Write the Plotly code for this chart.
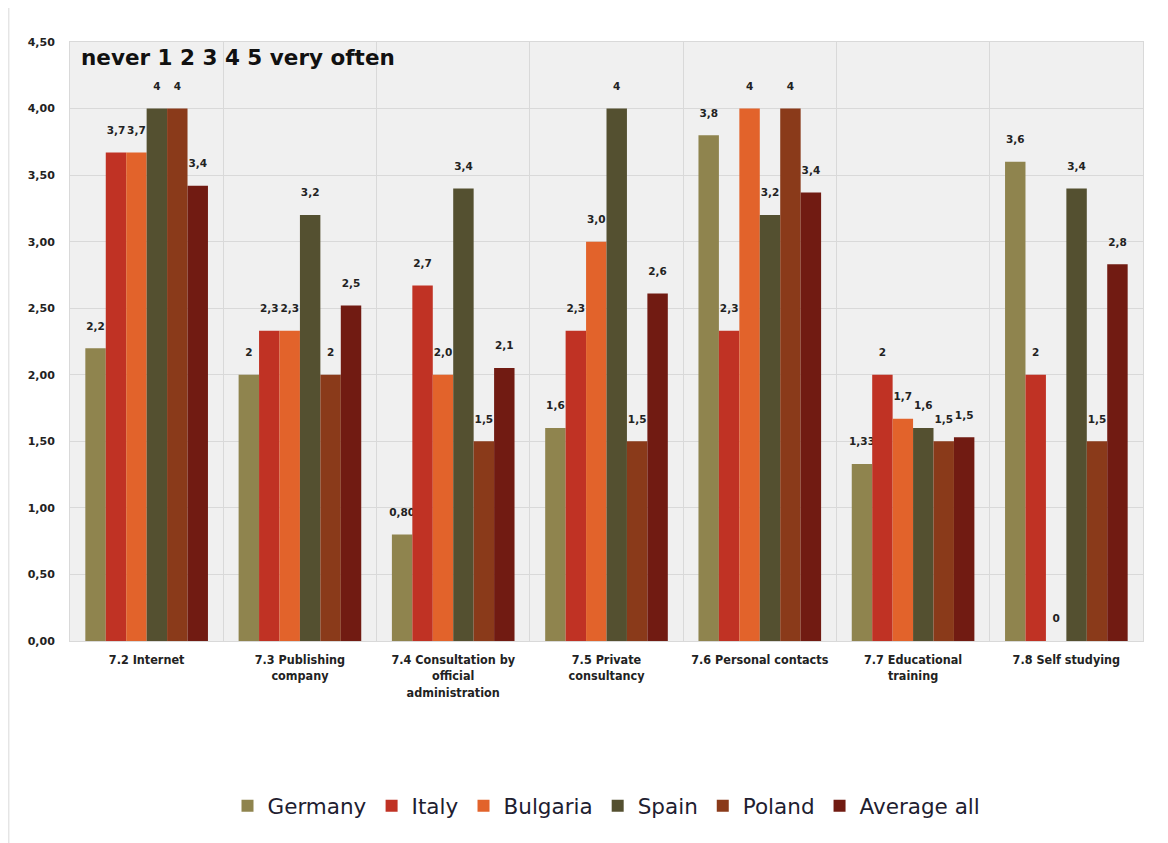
import plotly.graph_objects as go

categories = ["7.2 Internet", "7.3 Publishing<br>company", "7.4 Consultation by<br>official<br>administration",
              "7.5 Private<br>consultancy", "7.6 Personal contacts", "7.7 Educational<br>training", "7.8 Self studying"]

series_names = ["Germany", "Italy", "Bulgaria", "Spain", "Poland", "Average all"]

germany = [2.2, 2.0, 0.8, 1.6, 3.8, 1.33, 3.6]
italy = [3.67, 2.33, 2.67, 2.33, 2.33, 2.0, 2.0]
bulgaria = [3.67, 2.33, 2.0, 3.0, 4.0, 1.67, 0.0]
spain = [4.0, 3.2, 3.4, 4.0, 3.2, 1.6, 3.4]
poland = [4.0, 2.0, 1.5, 1.5, 4.0, 1.5, 1.5]
average_all = [3.42, 2.52, 2.05, 2.61, 3.37, 1.53, 2.83]

germany_labels = ["2,2", "2", "0,80", "1,6", "3,8", "1,33", "3,6"]
italy_labels = ["3,7", "2,3", "2,7", "2,3", "2,3", "2", "2"]
bulgaria_labels = ["3,7", "2,3", "2,0", "3,0", "4", "1,7", "0"]
spain_labels = ["4", "3,2", "3,4", "4", "3,2", "1,6", "3,4"]
poland_labels = ["4", "2", "1,5", "1,5", "4", "1,5", "1,5"]
average_labels = ["3,4", "2,5", "2,1", "2,6", "3,4", "1,5", "2,8"]

colors = ["#8F844E", "#C03224", "#E2632B", "#545030", "#8A3A1A", "#711B12"]

values = [germany, italy, bulgaria, spain, poland, average_all]
labels = [germany_labels, italy_labels, bulgaria_labels, spain_labels, poland_labels, average_labels]

fig = go.Figure()
for name, vals, labs, col in zip(series_names, values, labels, colors):
    fig.add_trace(go.Bar(
        name=name, x=categories, y=vals, text=labs,
        marker=dict(color=col, line=dict(width=0)),
        texttemplate="<b>%{text}</b><br> ",
        textposition="outside", cliponaxis=False, constraintext="none",
        textfont=dict(family="DejaVu Sans", size=10.5, color="#222222"),
        hoverinfo="skip",
    ))

fig.update_layout(
    width=1168, height=843,
    barmode="group", bargap=0.2, bargroupgap=0,
    separators=",.",
    paper_bgcolor="white", plot_bgcolor="#F0F0F0",
    margin=dict(l=62, r=33, t=34, b=210),
    font=dict(family="DejaVu Sans", color="#222222"),
    legend=dict(orientation="h", x=0.5, xanchor="center", y=-0.275, yanchor="middle",
                font=dict(family="DejaVu Sans", size=21.5, color="#1e2030"),
                itemsizing="constant", traceorder="normal", itemwidth=30),
    xaxis=dict(tickson="boundaries", showgrid=True, gridcolor="#D9D9D9", gridwidth=1,
               ticks="", tickangle=0, automargin=False, ticklabelstandoff=7,
               tickfont=dict(family="DejaVu Sans Condensed", size=12.5, color="#222222", weight="bold"),
               showline=True, linecolor="#D9D9D9", mirror=True),
    yaxis=dict(range=[0, 4.5], dtick=0.5, tickformat=".2f", showgrid=True,
               gridcolor="#D9D9D9", gridwidth=1, zeroline=False,
               tickfont=dict(family="DejaVu Sans", size=11, color="#222222", weight="bold"),
               showline=True, linecolor="#D9D9D9", mirror=True, ticklabelstandoff=12),
)

fig.add_annotation(text="<b>never 1 2 3 4 5 very often</b>", xref="paper", yref="paper",
                   x=0.008, y=0.998, xanchor="left", yanchor="top", showarrow=False,
                   font=dict(family="DejaVu Sans", size=21.5, color="#111111"))

fig.add_shape(type="line", xref="paper", yref="paper", x0=-0.057, x1=-0.057, y0=-0.35, y1=1.07,
              line=dict(color="#D9D9D9", width=1))

fig.write_html("out.html")
